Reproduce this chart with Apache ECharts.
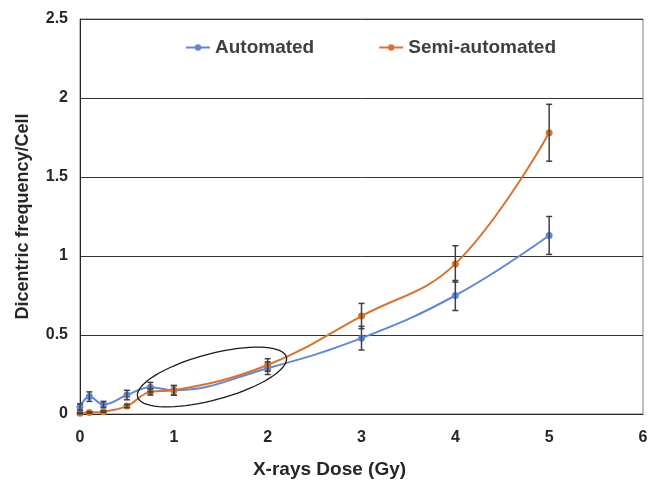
<!DOCTYPE html>
<html>
<head>
<meta charset="utf-8">
<script src="https://cdn.jsdelivr.net/npm/echarts@6/dist/echarts.min.js"></script>
<style>html,body{margin:0;padding:0;background:#fff}#c{width:656px;height:482px}</style>
</head>
<body>
<div id="c"></div>
<script>
const doses = [0, 0.1, 0.25, 0.5, 0.75, 1, 2, 3, 4, 5];
const automated = [0.044, 0.11, 0.06, 0.12, 0.17, 0.15, 0.29, 0.48, 0.75, 1.13];
const automatedErr = [0.02, 0.03, 0.02, 0.03, 0.03, 0.03, 0.04, 0.075, 0.095, 0.12];
const semiAutomated = [0.005, 0.01, 0.015, 0.05, 0.14, 0.15, 0.31, 0.62, 0.95, 1.78];
const semiErr = [0.004, 0.004, 0.004, 0.01, 0.02, 0.03, 0.04, 0.08, 0.115, 0.18];
const seriesNames = ['Automated', 'Semi-automated'];
const colors = ['#5F88DA', '#DA7330'];

const chart = echarts.init(document.getElementById('c'));
const font = 'Arial, "Liberation Sans", sans-serif';

function pairs(vals) { return doses.map((d, i) => [d, vals[i]]); }
function errData(vals, errs) { return doses.map((d, i) => [d, vals[i] - errs[i], vals[i] + errs[i]]); }

function errRender(params, api) {
  const x = api.value(0);
  const lo = api.coord([x, api.value(1)]);
  const hi = api.coord([x, api.value(2)]);
  const w = 3;
  const st = { stroke: '#404040', lineWidth: 1.5 };
  return {
    type: 'group',
    children: [
      { type: 'line', shape: { x1: lo[0], y1: lo[1], x2: hi[0], y2: hi[1] }, style: st },
      { type: 'line', shape: { x1: lo[0] - w, y1: lo[1], x2: lo[0] + w, y2: lo[1] }, style: st },
      { type: 'line', shape: { x1: hi[0] - w, y1: hi[1], x2: hi[0] + w, y2: hi[1] }, style: st }
    ]
  };
}

// annotation ellipse (pixel space)
const ell = [];
{
  const cx = 212, cy = 377, a = 77, b = 23, th = 15 * Math.PI / 180;
  for (let k = 0; k < 72; k++) {
    const t = k / 72 * 2 * Math.PI;
    ell.push([cx + a * Math.cos(th) * Math.cos(t) - b * Math.sin(th) * Math.sin(t),
              cy - (a * Math.sin(th) * Math.cos(t) + b * Math.cos(th) * Math.sin(t))]);
  }
}

chart.setOption({
  animation: false,
  color: colors,
  grid: { left: 80, right: 13, top: 19, bottom: 68, outerBoundsMode: 'none', containLabel: false,
          show: true, borderColor: '#7f7f7f', borderWidth: 1 },
  legend: {
    data: seriesNames,
    left: 180, top: 33,
    itemWidth: 24, itemHeight: 8, itemGap: 64,
    textStyle: { fontFamily: font, fontSize: 19, fontWeight: 'bold', color: '#404040' }
  },
  xAxis: {
    type: 'value', min: 0, max: 6, interval: 1,
    name: 'X-rays Dose (Gy)', nameLocation: 'middle', nameGap: 46,
    nameTextStyle: { fontFamily: font, fontSize: 19, fontWeight: 'bold', color: '#262626', padding: [0, 64, 0, 0] },
    axisLine: { lineStyle: { color: '#262626', width: 1 } },
    axisTick: { show: false },
    splitLine: { show: false },
    axisLabel: { fontFamily: font, fontSize: 16, fontWeight: 'bold', color: '#262626', margin: 16 }
  },
  yAxis: {
    type: 'value', min: 0, max: 2.5, interval: 0.5,
    name: 'Dicentric frequency/Cell', nameLocation: 'middle', nameGap: 48,
    nameTextStyle: { fontFamily: font, fontSize: 18, fontWeight: 'bold', color: '#262626' },
    axisLine: { show: true, lineStyle: { color: '#262626', width: 1 } },
    axisTick: { show: false },
    splitLine: { lineStyle: { color: '#333333', width: 1 } },
    axisLabel: { fontFamily: font, fontSize: 16, fontWeight: 'bold', color: '#262626', margin: 12 }
  },
  series: [
    { name: seriesNames[0], type: 'line', data: pairs(automated), smooth: 0.4,
      symbol: 'circle', symbolSize: 7, lineStyle: { width: 2, color: colors[0] },
      itemStyle: { color: colors[0] }, z: 3 },
    { name: seriesNames[1], type: 'line', data: pairs(semiAutomated), smooth: 0.4,
      symbol: 'circle', symbolSize: 7, lineStyle: { width: 2, color: colors[1] },
      itemStyle: { color: colors[1] }, z: 3 },
    { type: 'custom', data: errData(automated, automatedErr), renderItem: errRender, z: 4, encode: { x: 0, y: [1, 2] } },
    { type: 'custom', data: errData(semiAutomated, semiErr), renderItem: errRender, z: 4, encode: { x: 0, y: [1, 2] } }
  ],
  graphic: [
    { type: 'polygon', shape: { points: ell, smooth: 0 }, style: { fill: 'none', stroke: '#1a1a1a', lineWidth: 1.3 }, z: 10 }
  ]
});
</script>
</body>
</html>
